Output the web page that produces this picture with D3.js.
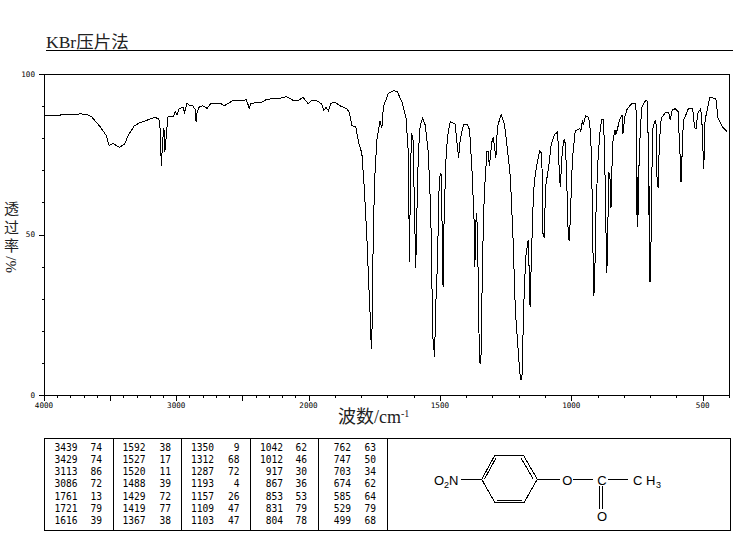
<!DOCTYPE html>
<html><head><meta charset="utf-8">
<script src="https://cdn.jsdelivr.net/npm/d3@7"></script>
<style>html,body{margin:0;padding:0;background:#fff;overflow:hidden}svg{display:block}</style>
</head><body><svg id="c" width="737" height="539"></svg>
<script>
const wavenumbers=[4000,3880,3870,3740,3720,3710,3680,3640,3576,3530,3508,3480,3429,3391,3361,3318,3278,3159,3131,3121,3113,3108,3098,3093,3086,3076,3063,3020,3008,2995,2977,2949,2937,2919,2901,2873,2855,2850,2842,2825,2800,2767,2742,2667,2636,2578,2490,2472,2460,2449,2434,2402,2364,2320,2250,2225,2167,2116,2074,2040,2023,2001,1988,1969,1950,1942,1933,1924,1915,1899,1880,1854,1844,1835,1820,1810,1797,1788,1778,1772,1765,1761,1758,1756,1749,1740,1728,1721,1715,1696,1677,1662,1645,1629,1620,1616,1611,1607,1602,1598,1592,1587,1582,1575,1566,1556,1544,1535,1527,1520,1517,1509,1504,1499,1494,1490,1488,1484,1477,1471,1461,1442,1436,1429,1423,1410,1397,1387,1378,1369,1367,1362,1357,1354,1350,1347,1343,1338,1331,1321,1316,1312,1302,1297,1287,1281,1267,1255,1245,1232,1222,1213,1204,1197,1193,1188,1184,1179,1173,1164,1160,1157,1151,1144,1137,1121,1113,1109,1108,1103,1098,1086,1077,1065,1052,1045,1042,1034,1027,1022,1016,1012,1008,1004,996,985,968,964,957,954,946,934,927,923,917,915,911,908,900,892,885,877,870,867,865,862,858,854,853,849,843,834,831,824,817,807,804,796,788,769,754,752,750,749,747,746,744,743,737,731,716,710,705,703,702,700,698,695,689,680,676,674,670,665,658,642,629,624,616,604,594,589,585,583,580,578,572,554,538,532,529,525,519,509,504,499,496,494,491,483,473,450,442,422,407,400];
const transmittance=[87.1,87.1,87.4,87.5,87.7,87.4,87.4,86.7,83.6,80.9,77.7,78.4,77.1,78.2,81,83.8,84.8,86.5,85.9,82.6,71.4,75,81.6,83.2,75.8,80.5,86.6,86.9,88.3,87.2,89.3,89.6,88.1,91,90.3,90,88.8,85.1,88.3,89.8,90.1,89.3,90.7,90.9,90.1,91.6,91.7,92,90.9,89.2,90.9,91,91,92,92.5,92.3,93,91.8,91.9,92.7,91.8,90.7,91.7,91.7,90.7,88.7,89.6,88.5,90.9,91.2,90.1,89.2,87.8,83.9,83.6,78.9,75.3,64.9,49.3,36.9,24.4,14.2,21.3,37.9,65.9,79.4,85.4,83.1,89.8,94,94.8,94.5,91.4,86.2,75.3,41.5,73.2,81.5,79.4,62.8,39.5,58.7,75.3,84.1,86.2,84.1,75.3,57.6,18.2,11.9,25.5,42,62.8,69,68.5,40,33.7,55.5,73.2,80.5,85.1,84.4,79.4,74,79.4,84.4,84.4,82.6,70.1,52.4,40,56.6,52.4,33.7,13,9.6,13,42,62.8,75.8,75.8,71.3,78.9,80.3,74,83.6,87.4,84.6,77.9,68,49.3,26.5,16.1,7.8,4.9,4.9,18.2,32.7,43.1,48.3,38,27.5,45.2,62.8,69,76,75.3,62.8,50.4,49,64.9,71.1,77.9,81,82,68,64.9,76.3,79.8,77.9,62.8,50.4,48,54.5,73.2,82.3,83,82.2,85.7,84.1,87,86.5,82,73.2,42,30.9,33.7,52.4,71.1,81,85.7,85.9,62.8,44.2,38,46,69.6,68.5,68,58.2,78.4,82.6,81,83,85.7,87.2,81.3,86.7,89,90.9,90.9,68,56,68,52.4,70.1,56,70.1,83.6,89.8,91.9,91.4,65.9,35.3,65,35.3,35.3,64.5,83.6,85.7,83.6,68,64.6,78.5,86.2,88,88,85.7,88.8,89.2,88.3,79.4,72.7,66.4,66.4,79.4,85.7,89.3,89.1,84.1,83,83,87.8,89,87.2,76.3,70.3,76.3,85.7,88.8,92.7,92.4,86.3,83.2,82];
const xTicks=d3.range(4000,399,-100);
const xLabels=[4000,3000,2000,1500,1000,500];
const yTicks=d3.range(0,101,10);
const yLabels=[0,50,100];
const peakCols=[[3439,3429,3113,3086,1761,1721,1616],[1592,1527,1520,1488,1429,1419,1367],[1350,1312,1287,1193,1157,1109,1103],[1042,1012,917,867,853,831,804],[762,747,703,674,585,529,499]];
const peakVals=[[74,74,86,72,13,79,39],[38,17,11,39,72,77,38],[9,68,72,4,26,47,47],[62,46,30,36,53,79,78],[63,50,34,62,64,79,68]];

const svg=d3.select('#c');
const mono='"DejaVu Sans Mono",monospace';
const cjk='"Liberation Serif","Noto Sans CJK SC",serif';
const x=d3.scaleLinear().domain([4000,2000,400]).range([44,308.5,729]);
const y=d3.scaleLinear().domain([0,100]).range([395,74]);
const seg=(x1,y1,x2,y2,w)=>svg.append('line').attr('x1',x1).attr('y1',y1).attr('x2',x2).attr('y2',y2).attr('stroke','#000').attr('stroke-width',w||1);
const crisp=(x1,y1,x2,y2)=>seg(x1,y1,x2,y2).attr('shape-rendering','crispEdges');
const txt=(s,px,py,size,fam,anchor)=>svg.append('text').attr('x',px).attr('y',py).attr('font-size',size).attr('font-family',fam).attr('text-anchor',anchor||'start').attr('fill','#000').text(s);

// title
txt('KBr压片法',46,48,17.5,cjk).attr('fill','#222');
crisp(46,50.5,733,50.5);

// plot frame
crisp(39,74.5,729.5,74.5);
crisp(39,395.5,729.5,395.5);
crisp(44.5,74,44.5,396);
crisp(729.5,74,729.5,396);

// axes
svg.selectAll('.xt').data(xTicks).join('line').attr('class','xt')
 .attr('x1',d=>Math.round(x(d))+.5).attr('x2',d=>Math.round(x(d))+.5)
 .attr('y1',395).attr('y2',d=>d%500===0?401:398).attr('stroke','#000').attr('shape-rendering','crispEdges');
svg.selectAll('.yt').data(yTicks).join('line').attr('class','yt')
 .attr('y1',d=>Math.round(y(d))+.5).attr('y2',d=>Math.round(y(d))+.5)
 .attr('x1',d=>d%50===0?39:42).attr('x2',44).attr('stroke','#000').attr('shape-rendering','crispEdges');
svg.selectAll('.xl').data(xLabels).join('text').attr('class','xl')
 .attr('x',d=>x(d)).attr('y',408).attr('text-anchor','middle').attr('font-family',mono).attr('font-size',7.6).text(d=>d);
svg.selectAll('.yl').data(yLabels).join('text').attr('class','yl')
 .attr('x',35).attr('y',d=>y(d)+2.8).attr('text-anchor','end').attr('font-family',mono).attr('font-size',7.6).text(d=>d);

// axis titles
const xt=txt('波数/cm',338,423,18,cjk).attr('fill','#222');
xt.append('tspan').attr('dy',-6).attr('font-size',10).text('-1');
txt('透',11.5,214,15,cjk,'middle').attr('fill','#222');
txt('过',11.5,233,15,cjk,'middle').attr('fill','#222');
txt('率',11.5,251,15,cjk,'middle').attr('fill','#222');
svg.append('text').attr('transform','translate(16,273) rotate(-90)').attr('font-size',15).attr('font-family',cjk).attr('fill','#222').text('%/');

// spectrum
const pts=wavenumbers.map((w,i)=>[w,transmittance[i]]);
const line=d3.line().x(d=>x(d[0])).y(d=>y(d[1]));
svg.append('path').datum(pts).attr('d',line).attr('fill','none').attr('stroke','#000').attr('stroke-width',1).attr('shape-rendering','crispEdges');

// peak table
crisp(44.5,438.5,730.5,438.5);
crisp(44.5,530.5,730.5,530.5);
[44.5,113.5,181.5,250.5,318.5,387.5,730.5].forEach(v=>crisp(v,438,v,531));
const rowY=i=>450.5+i*12.33;
const wnRight=[77.5,145.5,214,283,351];
const valRight=[102,171,239.5,307,376];
peakCols.forEach((col,c)=>col.forEach((w,i)=>{
  txt(w,wnRight[c],rowY(i),9.6,mono,'end');
  txt(peakVals[c][i],valRight[c],rowY(i),9.6,mono,'end');
}));

// structure: 4-nitrophenyl acetate
const ring=[[481.7,479.3],[495,455],[523.3,455],[537.3,479.3],[524,502.7],[495,502.7]];
ring.forEach((p,i)=>{const q=ring[(i+1)%6];crisp(p[0],p[1],q[0],q[1]);});
crisp(484.5,479,496,458);crisp(521,458,533.5,479.5);crisp(497,500,522,500);
crisp(461,479.5,481.7,479.5);crisp(537.3,479.5,560,479.5);crisp(573,479.5,593,479.5);crisp(608,479.5,628,479.5);
crisp(599.5,486,599.5,509);crisp(602.5,486,602.5,509);
const sans='"Liberation Sans",Arial,sans-serif';
txt('O',434,484.5,13,sans);txt('2',444,488,9,sans);txt('N',449,484.5,13,sans);
txt('O',567.3,484.5,13,sans,'middle');
txt('C',602,484.5,13,sans,'middle');
txt('C H',633,484.5,13,sans);txt('3',656,488,9,sans);
txt('O',602,521,13,sans,'middle');
</script></body></html>
